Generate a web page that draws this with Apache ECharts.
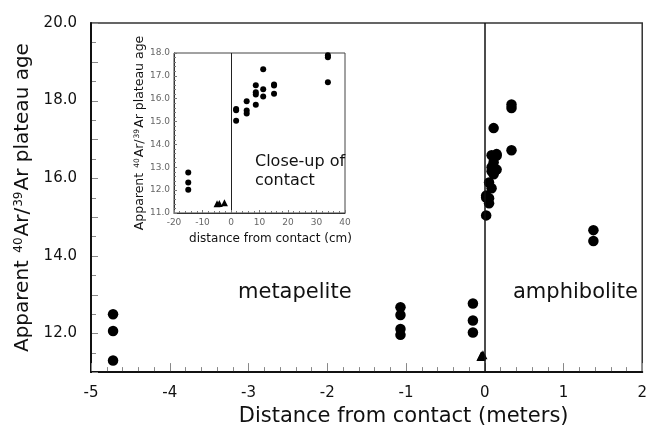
<!DOCTYPE html>
<html>
<head>
<meta charset="utf-8">
<script src="https://cdn.jsdelivr.net/npm/echarts@6/dist/echarts.min.js"></script>
<style>
  html, body { margin: 0; padding: 0; background: #fff; }
  #chart { width: 650px; height: 432px; }
</style>
</head>
<body>
<div id="chart"></div>
<script>
// samples far from the contact (meters)
const farDist = [-4.72, -4.72, -4.72, -1.07, -1.07, -1.07, -1.07, 1.38, 1.38];
const farAge = [12.49, 12.06, 11.30, 12.67, 12.47, 12.11, 11.96, 14.66, 14.38];

// close-up samples (cm)
const nearDist = [-15, -15, -15, 1.8, 1.8, 1.8, 5.5, 5.5, 5.5, 8.7, 8.7, 8.7, 8.7,
  11.3, 11.3, 11.3, 15.1, 15.1, 15.1, 34, 34, 34];
const nearAge = [12.77, 12.33, 12.02, 15.55, 15.5, 15.04, 15.89, 15.48, 15.35,
  16.59, 16.28, 16.18, 15.74, 17.29, 16.41, 16.1, 16.62, 16.58, 16.22, 17.9, 17.81, 16.72];

// triangles (cm)
const triDist = [-4.9, -4.1, -2.3];
const triAge = [11.4, 11.42, 11.45];

const mainTicks = [-5, -4, -3, -2, -1, 0, 1, 2];
const ageTicks = [12, 14, 16, 18, 20];
const ageTickMarks = [11, 12, 13, 14, 15, 16, 17, 18, 19, 20];

const font = 'DejaVu Sans';

function pairs(xs, ys, scale) {
  return xs.map((x, i) => [x * scale, ys[i]]);
}

// tick marks for the main frame: [value, 0 = x axis / 1 = y axis, length]
function tickMarks() {
  const out = [];
  mainTicks.forEach((v, i) => {
    out.push([v, 0, 8]);
    if (i < mainTicks.length - 1) {
      for (let k = 1; k < 5; k++) out.push([v + k * 0.2, 0, 4]);
    }
  });
  ageTickMarks.forEach((v, i) => {
    out.push([v, 1, 6]);
    if (i < ageTickMarks.length - 1) out.push([v + 0.5, 1, 4]);
  });
  return out;
}

const mainCircles = pairs(farDist, farAge, 1).concat(pairs(nearDist, nearAge, 0.01));
const mainTris = pairs(triDist, triAge, 0.01);

const chart = echarts.init(document.getElementById('chart'));

const nameRich = (big, small) => ({
  n: { fontSize: big, fontFamily: font, color: '#111' },
  s: { fontSize: small, fontFamily: font, color: '#111', verticalAlign: 'top', padding: [0, 1, 0, 1] }
});
const ageName = '{n|Apparent }{s|40}{n|Ar/}{s|39}{n|Ar plateau age}';

chart.setOption({
  animation: false,
  backgroundColor: '#fff',
  grid: [
    { left: 91, top: 23, width: 552, height: 354, show: true, borderColor: '#333', borderWidth: 1.5, backgroundColor: 'transparent' },
    { left: 174, top: 53, width: 171, height: 160, show: true, borderColor: '#444', borderWidth: 1, backgroundColor: '#fff', z: 5 }
  ],
  xAxis: [
    {
      gridIndex: 0, type: 'value', min: -5, max: 2, interval: 1,
      splitLine: { show: false },
      axisLine: { onZero: false, lineStyle: { color: '#111', width: 2 } },
      axisTick: { show: false },
      axisLabel: {
        fontSize: 15, fontFamily: font, color: '#111', margin: 14,
        formatter: v => mainTicks.includes(v) ? String(v) : ''
      },
      name: 'Distance from contact (meters)', nameLocation: 'middle', nameGap: 33,
      nameTextStyle: { fontSize: 21, fontFamily: font, color: '#111', padding: [0, 0, 0, 74] }
    },
    {
      gridIndex: 1, type: 'value', min: -20, max: 40, interval: 10, z: 6,
      splitLine: { show: false },
      axisLine: { onZero: false, lineStyle: { color: '#333', width: 1 } },
      axisTick: { show: true, inside: true, length: 3, lineStyle: { color: '#777' } },
      minorTick: { show: true, splitNumber: 5, length: 2, lineStyle: { color: '#777' } },
      axisLabel: { fontSize: 9, fontFamily: font, color: '#666', margin: 5 },
      name: 'distance from contact (cm)', nameLocation: 'middle', nameGap: 20,
      nameTextStyle: { fontSize: 12, fontFamily: font, color: '#111', padding: [0, 0, 0, 22] }
    }
  ],
  yAxis: [
    {
      gridIndex: 0, type: 'value', min: 11, max: 20, interval: 1,
      splitLine: { show: false },
      axisLine: { onZero: false, lineStyle: { color: '#111', width: 2 } },
      axisTick: { show: false },
      axisLabel: {
        fontSize: 15, fontFamily: font, color: '#111', margin: 14,
        formatter: v => ageTicks.includes(v) ? v.toFixed(1) : ''
      },
      name: ageName, nameLocation: 'middle', nameGap: 42,
      nameTextStyle: { rich: nameRich(20, 12) }
    },
    {
      gridIndex: 1, type: 'value', min: 11, max: 18, interval: 1, z: 6,
      splitLine: { show: false },
      axisLine: { onZero: false, lineStyle: { color: '#333', width: 1 } },
      axisTick: { show: true, inside: true, length: 3, lineStyle: { color: '#777' } },
      minorTick: { show: true, splitNumber: 5, length: 2, lineStyle: { color: '#777' } },
      axisLabel: { fontSize: 9, fontFamily: font, color: '#666', margin: 4, formatter: v => v.toFixed(1) },
      name: ageName, nameLocation: 'middle', nameGap: 26,
      nameTextStyle: { rich: nameRich(12.5, 7.5) }
    }
  ],
  series: [
    {
      // tick marks along the main frame, placed through the main axes
      type: 'custom', xAxisIndex: 0, yAxisIndex: 0, data: tickMarks(), silent: true, z: 3,
      encode: { x: 0 },
      renderItem: (params, api) => {
        const v = api.value(0), kind = api.value(1), len = api.value(2);
        let x1, y1, x2, y2;
        if (kind === 0) {
          const p = api.coord([v, 11]);
          x1 = x2 = Math.round(p[0]) + 0.5; y1 = p[1] - 1; y2 = p[1] - 1 - len;
        } else {
          const p = api.coord([-5, v]);
          y1 = y2 = Math.round(p[1]) + 0.5; x1 = p[0] + 1; x2 = p[0] + 1 + len;
        }
        return {
          type: 'line',
          shape: { x1, y1, x2, y2 },
          style: { stroke: '#888', lineWidth: 1 }
        };
      }
    },
    {
      type: 'scatter', xAxisIndex: 0, yAxisIndex: 0, data: mainCircles,
      symbol: 'circle', symbolSize: 10.5, itemStyle: { color: '#000', opacity: 1 },
      markLine: {
        silent: true, symbol: 'none', label: { show: false },
        lineStyle: { color: '#111', width: 1.5, type: 'solid' },
        data: [{ xAxis: 0 }]
      }
    },
    {
      type: 'scatter', xAxisIndex: 0, yAxisIndex: 0, data: mainTris,
      symbol: 'triangle', symbolSize: 9, itemStyle: { color: '#000', opacity: 1 }
    },
    {
      type: 'scatter', xAxisIndex: 1, yAxisIndex: 1, data: pairs(nearDist, nearAge, 1), z: 7,
      symbol: 'circle', symbolSize: 6, itemStyle: { color: '#000', opacity: 1 },
      markLine: {
        silent: true, symbol: 'none', label: { show: false },
        lineStyle: { color: '#222', width: 1, type: 'solid' },
        data: [{ xAxis: 0 }]
      }
    },
    {
      type: 'scatter', xAxisIndex: 1, yAxisIndex: 1, data: pairs(triDist, triAge, 1), z: 7,
      symbol: 'triangle', symbolSize: 7, itemStyle: { color: '#000', opacity: 1 }
    }
  ],
  graphic: [
    { type: 'text', left: 238, top: 282, z: 10,
      style: { text: 'metapelite', fontSize: 21, fontFamily: font, fill: '#111' } },
    { type: 'text', left: 513, top: 282, z: 10,
      style: { text: 'amphibolite', fontSize: 21, fontFamily: font, fill: '#111' } },
    { type: 'text', left: 255, top: 152, z: 10,
      style: { text: 'Close-up of\ncontact', fontSize: 16, lineHeight: 19, fontFamily: font, fill: '#111' } }
  ]
});
</script>
</body>
</html>
